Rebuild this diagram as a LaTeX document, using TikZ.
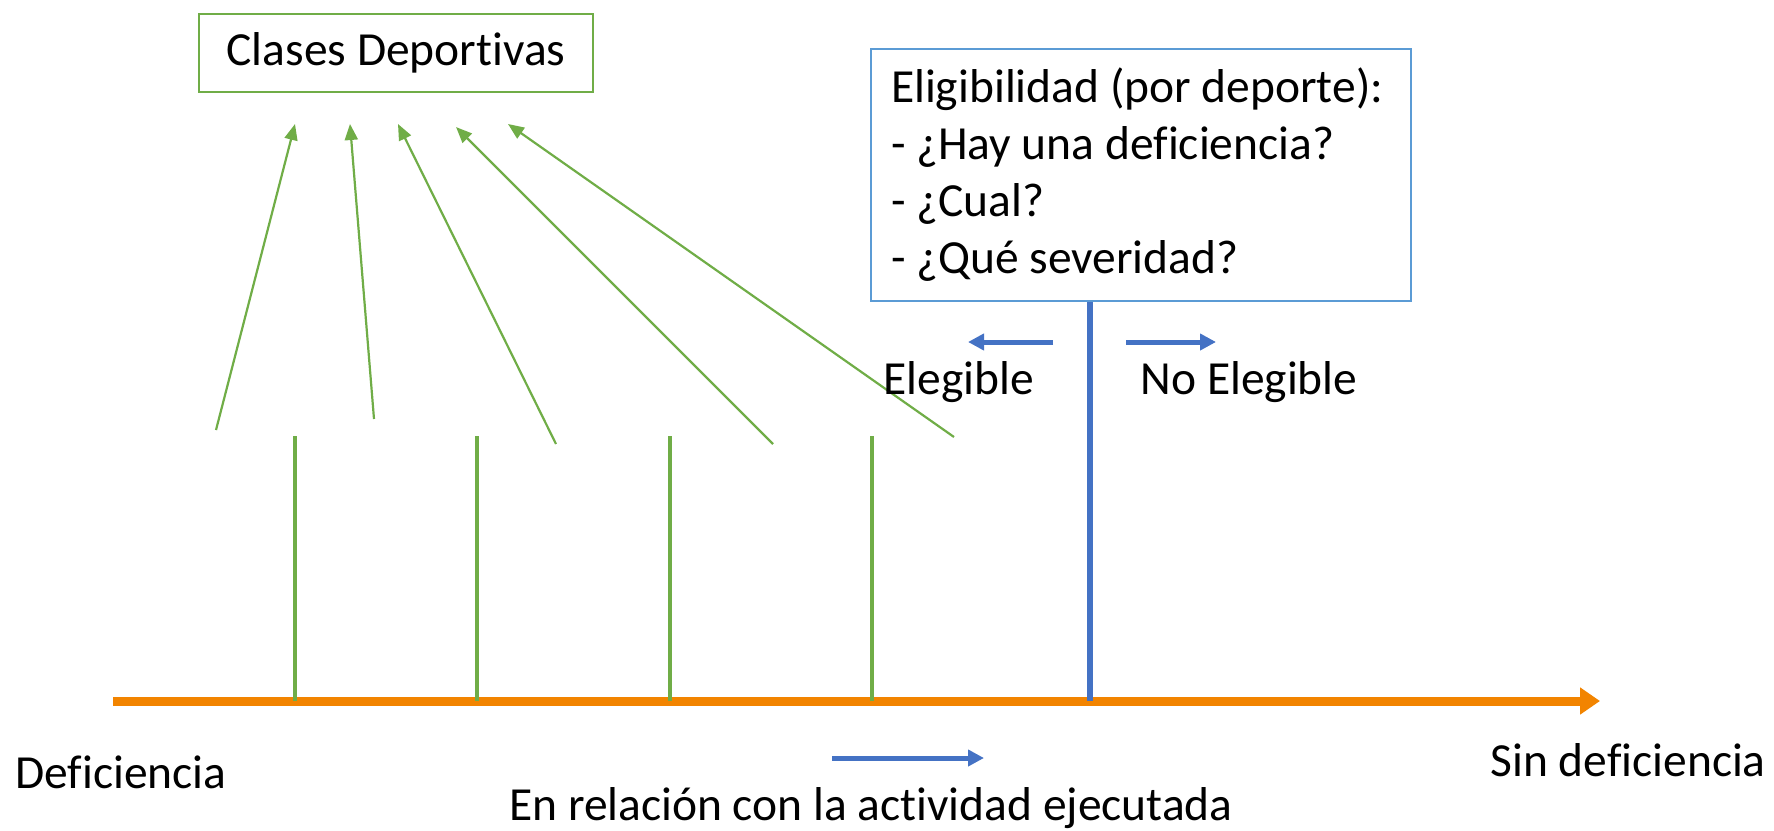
\documentclass[tikz,border=0pt]{standalone}
\usepackage{fontspec}
\setmainfont{Carlito}[Ligatures={NoCommon,NoRequired,NoContextual},Contextuals={NoAlternate}]
\usetikzlibrary{arrows.meta}
\definecolor{cgreen}{HTML}{70AD47}
\definecolor{cblue}{HTML}{4472C4}
\definecolor{cboxblue}{HTML}{5B9BD5}
\definecolor{corange}{RGB}{242,132,0}
\tikzset{
  lbl/.style={inner sep=0pt, font=\fontsize{47.5}{58}\selectfont},
  tick/.style={draw=cgreen, line width=4pt},
  garrow/.style={draw=cgreen, line width=2.2pt, -{Triangle[length=16pt,width=13pt]}},
  barrow/.style={draw=cblue, line width=5pt, -{Triangle[length=16pt,width=16pt]}},
}
\begin{document}
\begin{tikzpicture}[x=1pt,y=-1pt]
\useasboundingbox (0,0) rectangle (1774,830);
% boxes
\node[draw=cgreen, line width=2pt, minimum width=394pt, minimum height=78pt, inner sep=0pt,
      font=\fontsize{47.5}{58}\selectfont] (clases) at (396,53) {Clases Deportivas};
\node[draw=cboxblue, line width=2pt, anchor=north west, minimum width=540pt, minimum height=252pt,
      text width=500pt, inner xsep=20pt, inner ysep=0pt, align=flush left,
      font=\fontsize{47.5}{57}\selectfont] (elig) at (870,48)
  {Eligibilidad (por deporte):\\- ¿Hay una deficiencia?\\- ¿Cual?\\- ¿Qué severidad?};
% axis
\coordinate (axL) at (113,701);
\coordinate (axR) at (1600,701);
\draw[draw=corange, line width=9pt, -{Triangle[length=20pt,width=26pt]}] (axL) -- (axR);
% green ticks
\foreach \i/\x in {1/295,2/477,3/670,4/872}{
  \coordinate (t\i top) at (\x,436);
  \coordinate (t\i bot) at (\x,701);
  \draw[tick] (t\i top) -- (t\i bot);
}
% green arrows to the class box
\coordinate (s1) at (216,430); \coordinate (e1) at (295,124);
\coordinate (s2) at (374,419); \coordinate (e2) at (350,124);
\coordinate (s3) at (556,444); \coordinate (e3) at (398,124);
\coordinate (s4) at (773,444); \coordinate (e4) at (456,127);
\coordinate (s5) at (954,437); \coordinate (e5) at (508,124);
\foreach \i in {1,...,5}{ \draw[garrow] (s\i) -- (e\i); }
% blue eligibility line
\coordinate (bbase) at (1090,701);
\draw[draw=cblue, line width=6pt] (elig.south -| bbase) -- (bbase);
% small blue arrows
\coordinate (el1) at (1053,342); \coordinate (el2) at (968,342);
\coordinate (ne1) at (1126,342); \coordinate (ne2) at (1216,342);
\draw[barrow] (el1) -- (el2);
\draw[barrow] (ne1) -- (ne2);
\coordinate (ac1) at (832,758); \coordinate (ac2) at (984,758);
\draw[barrow] (ac1) -- (ac2);
% labels
\node[lbl] (elegible) at (959,382) {Elegible};
\node[lbl] (noeleg) at (1249,382) {No Elegible};
\node[lbl, anchor=west] (defic) at (15,772) {Deficiencia};
\node[lbl, anchor=east] (sindef) at (1766,760) {Sin deficiencia};
\node[lbl] (relacion) at (871,808) {En relación con la actividad ejecutada};
\end{tikzpicture}
\end{document}
